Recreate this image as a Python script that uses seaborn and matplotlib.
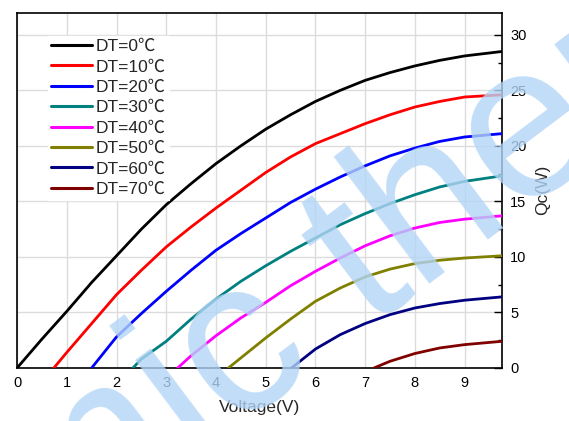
import numpy as np
import pandas as pd
import matplotlib
matplotlib.use("Agg")
import matplotlib.pyplot as plt
from matplotlib.ticker import MultipleLocator
import seaborn as sns

# values, Qc(W) vs Voltage(V)
v_dt0 = [0, 0.5, 1, 1.5, 2, 2.5, 3, 3.5, 4, 4.5, 5, 5.5, 6, 6.5, 7, 7.5, 8, 8.5, 9, 9.75]
q_dt0 = [0, 2.6, 5.1, 7.7, 10.1, 12.5, 14.7, 16.6, 18.4, 20.0, 21.5, 22.8, 24.0, 25.0, 25.9, 26.6, 27.2, 27.7, 28.1, 28.5]

v_dt10 = [0.74, 1, 1.5, 2, 2.5, 3, 3.5, 4, 4.5, 5, 5.5, 6, 6.5, 7, 7.5, 8, 8.5, 9, 9.75]
q_dt10 = [0, 1.4, 4.0, 6.6, 8.8, 10.9, 12.7, 14.4, 16.0, 17.6, 19.0, 20.2, 21.1, 22.0, 22.8, 23.5, 24.0, 24.4, 24.6]

v_dt20 = [1.5, 2, 2.5, 3, 3.5, 4, 4.5, 5, 5.5, 6, 6.5, 7, 7.5, 8, 8.5, 9, 9.75]
q_dt20 = [0, 2.8, 4.9, 6.9, 8.8, 10.6, 12.1, 13.5, 14.9, 16.1, 17.2, 18.2, 19.1, 19.8, 20.4, 20.8, 21.1]

v_dt30 = [2.33, 2.5, 3, 3.5, 4, 4.5, 5, 5.5, 6, 6.5, 7, 7.5, 8, 8.5, 9, 9.75]
q_dt30 = [0, 0.8, 2.4, 4.4, 6.2, 7.8, 9.2, 10.5, 11.7, 12.9, 13.9, 14.8, 15.6, 16.3, 16.8, 17.3]

v_dt40 = [3.23, 3.5, 4, 4.5, 5, 5.5, 6, 6.5, 7, 7.5, 8, 8.5, 9, 9.75]
q_dt40 = [0, 1.1, 2.9, 4.5, 5.9, 7.4, 8.7, 9.9, 11.0, 11.9, 12.6, 13.1, 13.4, 13.7]

v_dt50 = [4.25, 4.5, 5, 5.5, 6, 6.5, 7, 7.5, 8, 8.5, 9, 9.75]
q_dt50 = [0, 0.9, 2.7, 4.4, 6.0, 7.2, 8.2, 8.9, 9.4, 9.7, 9.9, 10.1]

v_dt60 = [5.52, 6, 6.5, 7, 7.5, 8, 8.5, 9, 9.75]
q_dt60 = [0, 1.7, 3.0, 4.0, 4.8, 5.4, 5.8, 6.1, 6.4]

v_dt70 = [7.18, 7.5, 8, 8.5, 9, 9.75]
q_dt70 = [0, 0.6, 1.3, 1.8, 2.1, 2.4]

labels = ["DT=0℃", "DT=10℃", "DT=20℃", "DT=30℃", "DT=40℃", "DT=50℃", "DT=60℃", "DT=70℃"]
colors = ["#000000", "#ff0000", "#0000ff", "#008080", "#ff00ff", "#808000", "#000080", "#800000"]

series = [(v_dt0, q_dt0), (v_dt10, q_dt10), (v_dt20, q_dt20), (v_dt30, q_dt30),
          (v_dt40, q_dt40), (v_dt50, q_dt50), (v_dt60, q_dt60), (v_dt70, q_dt70)]

frames = []
for lab, (v, q) in zip(labels, series):
    frames.append(pd.DataFrame({"V": v, "Q": q, "DT": lab}))
df = pd.concat(frames, ignore_index=True)

sns.set_style("white")
plt.rcParams["font.family"] = ["Liberation Sans", "Noto Sans CJK SC", "DejaVu Sans"]

fig = plt.figure(figsize=(5.69, 4.21), dpi=100)
ax = fig.add_axes([0.030, 0.126, 0.852, 0.844])

# watermark (faint, partly outside the picture like the reference)
fig.text(0.571, 0.309, "mic ther", fontsize=158, color="#b3d5f7", alpha=0.8,
         rotation=37, ha="center", va="center", zorder=5)

sns.lineplot(data=df, x="V", y="Q", hue="DT", palette=dict(zip(labels, colors)),
             hue_order=labels, estimator=None, sort=False, lw=2, ax=ax, zorder=3)

ax.set_xlim(0, 9.75)
ax.set_ylim(0, 32)
ax.xaxis.set_major_locator(MultipleLocator(1))
ax.xaxis.set_minor_locator(MultipleLocator(0.5))
ax.yaxis.set_major_locator(MultipleLocator(5))
ax.yaxis.set_minor_locator(MultipleLocator(2.5))
ax.yaxis.tick_right()
ax.yaxis.set_label_position("right")
ax.tick_params(axis="both", which="both", direction="in", colors="black", labelsize=10.5)
ax.tick_params(axis="both", which="major", length=6, width=1)
ax.tick_params(axis="both", which="minor", length=3, width=1)
ax.tick_params(axis="x", top=False, pad=6)
ax.tick_params(axis="y", left=False, pad=6)

ax.grid(True, which="major", color="#dcdcdc", lw=1)
ax.set_axisbelow(True)
for s in ax.spines.values():
    s.set_color("black")
    s.set_linewidth(1.2)

ax.set_xlabel("Voltage(V)", fontsize=12.5, labelpad=7)
ax.set_ylabel("Qc(W)", fontsize=12.5, labelpad=6)

leg = ax.legend(loc="upper left", bbox_to_anchor=(0.045, 0.96), fontsize=12.5,
                frameon=True, fancybox=False, framealpha=1, edgecolor="white",
                handlelength=2.36, handletextpad=0.2, labelspacing=0.3, borderpad=0.2)
for line in leg.get_lines():
    line.set_linewidth(2.2)
leg.set_zorder(4)

fig.savefig("out.png", dpi=100)
